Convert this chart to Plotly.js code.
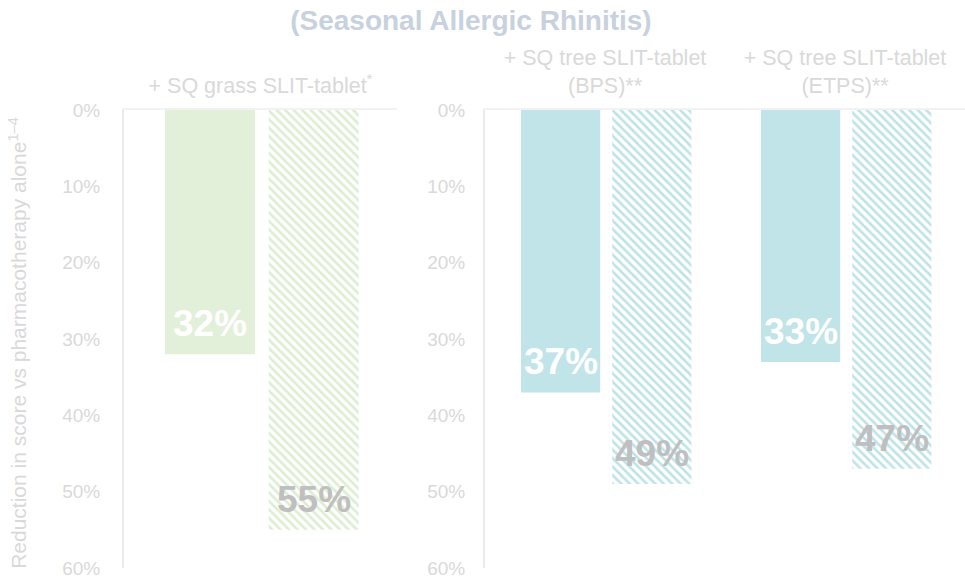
<!DOCTYPE html>
<html>
<head>
<meta charset="utf-8">
<script src="https://cdn.plot.ly/plotly-3.0.1.min.js"></script>
<style>html,body{margin:0;padding:0;background:#fff;}#chart{width:965px;height:579px;}</style>
</head>
<body>
<div id="chart"></div>
<script>
// ---- data ----
const grassCategories = ["+ SQ grass SLIT-tablet<sup>*</sup>"];
const grassSolid = [32];
const grassHatched = [55];
const treeCategories = ["+ SQ tree SLIT-tablet<br>(BPS)**", "+ SQ tree SLIT-tablet<br>(ETPS)**"];
const treeSolid = [37, 33];
const treeHatched = [49, 47];
const yTicks = [0, 10, 20, 30, 40, 50, 60];
const yTickLabels = ["0%", "10%", "20%", "30%", "40%", "50%", "60%"];

// ---- styles ----
const GREEN = "#e2f0d9", GREEN_HATCH = "#dceed0";
const TEAL = "#c0e4e8", TEAL_HATCH = "#bde3e7";
const LIGHT = "#d9d9d9";
const BAR_W = 0.33, OFF_SOLID = -0.35, OFF_HATCH = 0.03;
const FONT = "Liberation Sans, Arial, sans-serif";

function solidTrace(cats, vals, color, xa, ya) {
  return {type: "bar", x: cats, y: vals, xaxis: xa, yaxis: ya,
    width: BAR_W, offset: OFF_SOLID,
    marker: {color: color, line: {width: 0}}, hoverinfo: "skip", showlegend: false};
}
function hatchTrace(cats, vals, color, xa, ya) {
  return {type: "bar", x: cats, y: vals, xaxis: xa, yaxis: ya,
    width: BAR_W, offset: OFF_HATCH,
    marker: {color: "#ffffff", line: {width: 0},
      pattern: {shape: "\\", fgcolor: color, bgcolor: "#ffffff", size: 6, solidity: 0.42}},
    hoverinfo: "skip", showlegend: false};
}

const data = [
  solidTrace(grassCategories, grassSolid, GREEN, "x", "y"),
  hatchTrace(grassCategories, grassHatched, GREEN_HATCH, "x", "y"),
  solidTrace(treeCategories, treeSolid, TEAL, "x2", "y2"),
  hatchTrace(treeCategories, treeHatched, TEAL_HATCH, "x2", "y2")
];

// value labels
const annotations = [];
function addLabels(vals, xref, yref, off, color) {
  vals.forEach((v, i) => {
    annotations.push({x: i + off + BAR_W / 2, y: v, xref: xref, yref: yref,
      text: v + "%", showarrow: false, yanchor: "bottom", yshift: 8,
      font: {family: FONT, size: 37, color: color, weight: "bold"}});
  });
}
addLabels(grassSolid, "x", "y", OFF_SOLID, "#ffffff");
addLabels(grassHatched, "x", "y", OFF_HATCH, "#bfbfbf");
addLabels(treeSolid, "x2", "y2", OFF_SOLID, "#ffffff");
addLabels(treeHatched, "x2", "y2", OFF_HATCH, "#bfbfbf");

annotations.push({xref: "paper", yref: "paper", x: -0.127, y: 0.492, xanchor: "center", yanchor: "middle",
  textangle: -90, showarrow: false,
  text: "Reduction in score vs pharmacotherapy alone<sup>1–4</sup>",
  font: {family: FONT, size: 21, color: LIGHT}});

const yax = {range: [60, 0], tickvals: yTicks, ticktext: yTickLabels,
  showgrid: false, zeroline: false, showline: true, linecolor: "#ebebeb", linewidth: 2,
  ticks: "", tickfont: {family: FONT, size: 19, color: LIGHT}, fixedrange: true};
const xax = {type: "category", side: "top", showline: true, linecolor: "#f2f2f2", linewidth: 2,
  showgrid: false, zeroline: false, ticks: "", ticklabelstandoff: 6,
  tickfont: {family: FONT, size: 21.5, color: LIGHT}, fixedrange: true};

const layout = {
  width: 965, height: 579,
  margin: {l: 124, r: 0, t: 110, b: 11},
  paper_bgcolor: "#ffffff", plot_bgcolor: "#ffffff",
  title: {text: "<b>(Seasonal Allergic Rhinitis)</b>", x: 0.488, xanchor: "center", y: 0.965, yanchor: "middle",
    font: {family: FONT, size: 28, color: "#c8d1de"}},
  xaxis: Object.assign({}, xax, {domain: [0, 0.3246], anchor: "y", range: [-0.5, 0.5]}),
  yaxis: Object.assign({}, yax, {domain: [0, 1], anchor: "x", ticklabelstandoff: 18}),
  xaxis2: Object.assign({}, xax, {domain: [0.4293, 1], anchor: "y2", range: [-0.5, 1.5]}),
  yaxis2: Object.assign({}, yax, {domain: [0, 1], anchor: "x2", ticklabelstandoff: 14}),
  annotations: annotations,
  showlegend: false
};

Plotly.newPlot("chart", data, layout, {displayModeBar: false, staticPlot: true});
</script>
</body>
</html>
